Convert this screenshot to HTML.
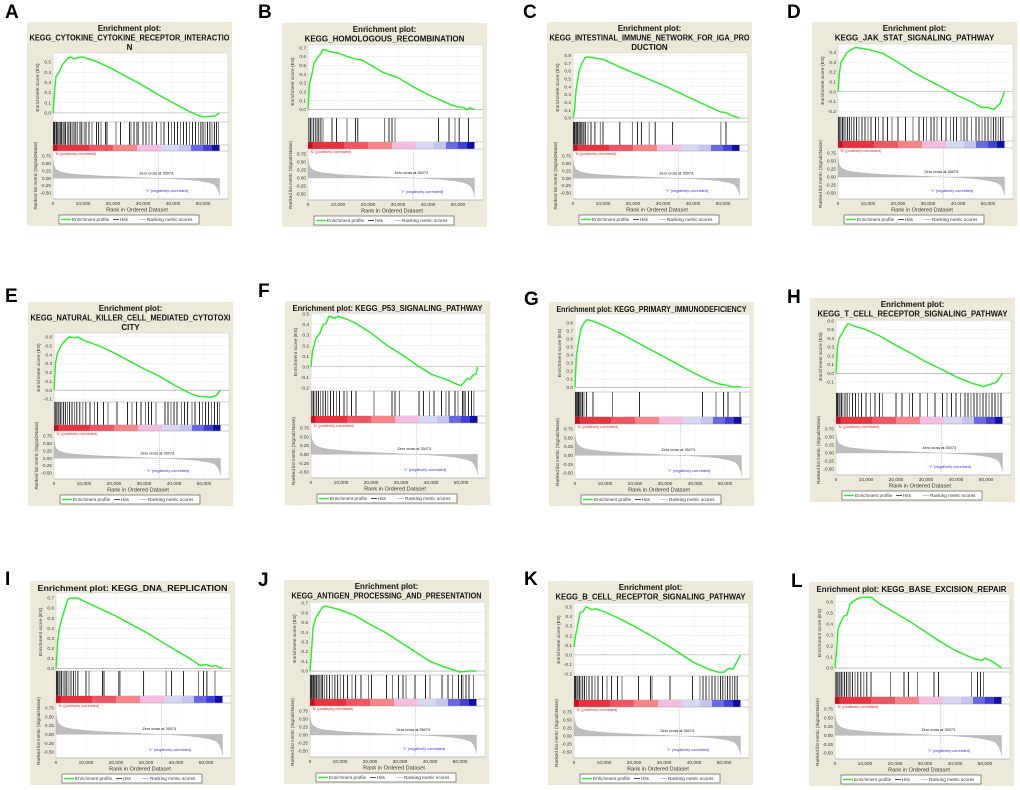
<!DOCTYPE html>
<html><head><meta charset="utf-8"><style>
body{margin:0;background:#fff;}
svg{display:block;font-family:"Liberation Sans",Arial,sans-serif;}
</style></head><body>
<svg id="fig" width="1020" height="790" viewBox="0 0 1020 790" xmlns="http://www.w3.org/2000/svg"></svg>
<script>
// ---- data (ranks in thousands) ----
const panelLetters=["A","B","C","D","E","F","G","H","I","J","K","L"];
const panelTitles=[
["Enrichment plot:","KEGG_CYTOKINE_CYTOKINE_RECEPTOR_INTERACTIO","N"],
["Enrichment plot:","KEGG_HOMOLOGOUS_RECOMBINATION"],
["Enrichment plot:","KEGG_INTESTINAL_IMMUNE_NETWORK_FOR_IGA_PRO","DUCTION"],
["Enrichment plot:","KEGG_JAK_STAT_SIGNALING_PATHWAY"],
["Enrichment plot:","KEGG_NATURAL_KILLER_CELL_MEDIATED_CYTOTOXI","CITY"],
["Enrichment plot: KEGG_P53_SIGNALING_PATHWAY"],
["Enrichment plot: KEGG_PRIMARY_IMMUNODEFICIENCY"],
["Enrichment plot:","KEGG_T_CELL_RECEPTOR_SIGNALING_PATHWAY"],
["Enrichment plot: KEGG_DNA_REPLICATION"],
["Enrichment plot:","KEGG_ANTIGEN_PROCESSING_AND_PRESENTATION"],
["Enrichment plot:","KEGG_B_CELL_RECEPTOR_SIGNALING_PATHWAY"],
["Enrichment plot: KEGG_BASE_EXCISION_REPAIR"]];
const esTickLo=[0,0,0,-0.2,-0.1,-0.2,0,-0.1,0,0,-0.2,0];
const esTickHi=[0.5,0.7,0.8,0.4,0.6,0.5,0.8,0.6,0.7,0.7,0.5,0.6];
const esDomLo=[-0.09,-0.095,-0.05,-0.257,-0.133,-0.23,-0.06,-0.225,-0.025,-0.04,-0.22,-0.036];
const esDomHi=[0.59,0.73,0.83,0.486,0.644,0.51,0.91,0.61,0.75,0.71,0.54,0.67];
const esRanks=[
[0,0.5,1,2,3,5,6,7,9,10,15,20,25,30,35,40,45,48,50,54,55.5],
[0,0.5,1,2,3,4,5,8,10,13,16,18,25,30,35,40,44,48,50,52,53,54,55.5],
[0,0.5,1,2,3,4,5,10,15,20,25,30,35,40,45,49,51,53,55.5],
[0,0.5,1,2,3,5,6,10,15,20,25,30,35,40,45,48,50,52,54,55.5],
[0,0.5,1,2,3,5,7,8,10,15,20,25,30,35,40,45,48,50,52,54,55.5],
[0,0.5,1,1.5,3,4,5,6,8,9,12,15,20,25,30,35,40,45,49,50,51,52,53,54,55,55.5],
[0,0.5,1,2,3,4,6,10,15,20,25,30,35,40,45,48,50,53,54,55.5],
[0,0.5,1,2,3,4,6,10,15,20,25,30,35,40,45,49,51,53,54,55.5],
[0,0.5,1,2,3,4,5,7,10,15,20,25,30,35,40,45,48,50,52,53,55.5],
[0,0.5,1,2,3,4,5,10,15,20,25,30,35,40,45,48,50,53,55.5],
[0,0.5,1,2,3,4,6,7,10,15,20,25,30,35,40,45,48,50,51,52,53,54,55.5],
[0,0.5,1,2,3,4,5,7,9,12,15,20,25,30,35,40,45,47,49,50,53,55.5]];
const esValues=[
[0,0.2,0.36,0.4,0.47,0.54,0.55,0.53,0.55,0.55,0.5,0.43,0.35,0.27,0.18,0.1,0.02,-0.02,-0.04,-0.03,0],
[0,0.3,0.35,0.52,0.58,0.62,0.68,0.65,0.64,0.6,0.57,0.56,0.42,0.36,0.26,0.17,0.11,0.05,0.03,0.02,0,0.02,0],
[0,0.1,0.35,0.6,0.7,0.77,0.78,0.75,0.66,0.58,0.5,0.42,0.33,0.24,0.15,0.08,0.07,0.03,0],
[0,0.2,0.3,0.35,0.4,0.44,0.45,0.43,0.39,0.3,0.2,0.12,0.04,-0.04,-0.11,-0.16,-0.16,-0.18,-0.12,0],
[0,0.3,0.4,0.48,0.53,0.6,0.59,0.6,0.56,0.5,0.42,0.33,0.24,0.16,0.06,-0.03,-0.07,-0.07,-0.08,-0.06,0],
[0,0.15,0.2,0.26,0.32,0.4,0.41,0.48,0.46,0.48,0.45,0.41,0.32,0.21,0.12,0.02,-0.07,-0.12,-0.17,-0.18,-0.15,-0.11,-0.12,-0.08,-0.07,0],
[0,0.4,0.52,0.73,0.8,0.84,0.82,0.76,0.67,0.57,0.47,0.37,0.27,0.17,0.08,0.04,0.03,0,0.01,0],
[0,0.3,0.4,0.45,0.52,0.57,0.54,0.5,0.42,0.32,0.23,0.13,0.05,-0.04,-0.11,-0.15,-0.13,-0.11,-0.08,0],
[0,0.25,0.38,0.5,0.6,0.69,0.7,0.7,0.66,0.59,0.52,0.44,0.36,0.27,0.18,0.09,0.03,0.04,0.02,0.03,0],
[0,0.2,0.45,0.55,0.6,0.65,0.67,0.63,0.57,0.48,0.4,0.3,0.2,0.1,0.04,0.01,-0.01,0,0],
[0.08,0.2,0.27,0.44,0.45,0.5,0.47,0.48,0.45,0.38,0.3,0.21,0.12,0.02,-0.08,-0.15,-0.18,-0.18,-0.15,-0.14,-0.15,-0.09,0],
[0,0.15,0.35,0.42,0.47,0.48,0.58,0.62,0.64,0.64,0.58,0.5,0.42,0.33,0.24,0.16,0.1,0.08,0.07,0.09,0.05,0]];
const hitRanks=[
[0.2,0.5,0.9,1.2,1.6,2,2.4,2.8,3.3,3.7,4.2,4.8,5.3,5.9,6.4,7,7.6,8.2,9,9.6,10.4,11,12,13,14.5,15.2,16,17.5,18,21,22.5,25.5,26,27,28,28.5,30,31,32,33,34.5,36,37,38.5,39.5,40.5,41.5,42.5,43.5,44.5,45.5,46.5,47.5,48.5,49.3,50,50.7,51.5,52.3,53,53.8,54.5,55.2],
[0.3,0.8,1.3,1.9,2.6,3.1,3.6,4.3,5,8,9.5,13,15.8,16.6,25.5,27,28,29,43.5,47,49,50.4,53.5],
[0.2,0.5,0.8,1.1,1.5,1.9,2.3,2.7,3.1,3.6,4.1,5,6,7.3,9.1,10,15.6,19.8,21.5,22.8,25.4,27.4,33.2,49.3,51],
[0.2,0.6,1,1.5,2,2.6,3.2,3.8,4.5,5.3,6.2,7,8,9,10,11,12.5,13.5,15,16.5,18,20,22.5,25,27,28.5,29.5,31,32,33,34.5,36,37.5,38.5,39.5,41,42,43,44.5,46,47,48,49,50,51,51.8,52.6,53.4,54.2,55],
[0.3,0.7,1.1,1.6,2.1,2.6,3.2,3.8,4.5,5.2,6,6.8,7.6,8.6,9.6,10.6,12,13.5,14.5,16.5,18,21,24.5,26,27.5,29,30.5,31.5,32.5,34,37,38,39,40,41,42.5,43.5,44.5,46,47,48.5,49.5,50.5,51.5,52.5,53.5,54.5,55.2],
[0.3,0.8,1.3,1.9,2.5,3.2,4,4.8,5.6,6.5,7.5,8.5,9.5,11,12,13.5,15,21,27,28,29.5,36,37.5,39.5,41,43.5,45,46,48,49,50.5,51,51.5,52.5,53.5,54.3],
[0.2,0.4,0.7,1,1.3,1.6,2,2.5,3,3.8,6,12.5,21.5,42.5,47,49.5,51,55],
[0.2,0.5,0.9,1.3,1.8,2.3,3,3.7,4.5,5.5,6.5,7.5,8.5,10,11.5,13,14.5,15.5,20,22,24.5,25.5,28,30.5,33,35.5,37,38.5,40,41.5,43,44,45,46,47,48,49,50,51,52,53,54,55],
[0.2,0.5,0.9,1.3,1.8,2.4,3,3.6,4.3,5,5.8,6.5,7.3,10,11,15.5,16,20.8,21.3,29.2,36.7,38.5,42.5,47.5,49.2,50.3,53],
[0.2,0.5,0.8,1.1,1.4,1.8,2.2,2.7,3.2,3.7,4.2,4.8,5.6,6.5,7.4,8.3,9.2,10.1,11.2,12.5,14,15.2,17,19.5,20.5,25.5,27.5,29.5,31,32,35,38.5,40,44,46,47.5,49.5,50.5,51,52,53,54.5],
[0.2,0.5,0.9,1.3,1.8,2.3,2.9,3.5,4.2,5,6,7,8,9.5,11,12.5,14.5,16,21.5,25.5,26,32,39.5,42,43,44,45,46,47,48,48.8,49.6,50.4,51.2,52,52.8,53.6,54.4],
[0.3,0.7,1.1,1.6,2.1,2.6,3.2,3.8,4.4,5,5.8,6.7,7.6,8.6,9.6,10.6,12,18.5,23,24.5,27.5,33,34.5,45.5,47.5,48.5,49.5]];
const metricRanks=[0,0.2,0.5,1,2,3,5,8,10,15,20,25,30,35.07,40,45,48,50,52,53.5,54.5,55.2,55.5];
const metricValues=[0.6,0.48,0.38,0.3,0.24,0.2,0.16,0.13,0.11,0.08,0.06,0.04,0.02,0,-0.02,-0.05,-0.08,-0.11,-0.15,-0.2,-0.3,-0.45,-0.58];
const xTickValues=[0,10,20,30,40,50];
const xTickLabels=["0","10,000","20,000","30,000","40,000","50,000"];
const rankTickValues=[0.75,0.5,0.25,0,-0.25,-0.5];
const rankTickLabels=["0.75","0.50","0.25","0.00","-0.25","-0.50"];
const zeroCross=35.073;
// ---- layout ----
const boxes=[[27,22],[282,23],[547,22],[812,22],[28,302],[285,301],[549,302],[810,298],[30,581],[284,580],[548,581],[809,582]];
const labelPos=[[5,18],[258,18],[523,18],[787,18],[5,302],[258,297],[524,305],[787,303],[5,585],[258,586],[524,585],[791,587]];
const NS="http://www.w3.org/2000/svg";
const svg=document.getElementById("fig");
function mk(tag,attrs,parent,text){const e=document.createElementNS(NS,tag);for(const k in attrs)e.setAttribute(k,attrs[k]);if(text!==undefined)e.textContent=text;parent.appendChild(e);return e;}
const cbStops=[[0,1.5,"#c81020"],[1.5,12,"#e8333d"],[12,20,"#f05562"],[20,28,"#f88488"],[28,36,"#f8bce0"],[36,42,"#d8d8f6"],[42,46,"#c4c4f0"],[46,50,"#6868e4"],[50,53,"#4040d4"],[53,55.5,"#1010a8"]];
for(let p=0;p<12;p++){
  const bx=boxes[p][0],by=boxes[p][1];
  const g=mk("g",{transform:`translate(${bx},${by})`},svg);
  
  
  const lab=mk("text",{x:labelPos[p][0],y:labelPos[p][1],"font-size":19,"font-weight":"bold",fill:"#000"},svg,panelLetters[p]);
  
  
  const bg=mk("rect",{x:0,y:0,width:205,height:204,fill:"#ece9d9"},g);
  
  
  const nl=panelTitles[p].length;
  const esTop=nl===3?31:(nl===2?22:12), esBot=nl===3?100:(nl===2?95:90);
  const hitsBot=nl===3?123:(nl===2?119:115), cbBot=nl===3?129:(nl===2?126:122);
  const rTop=cbBot+1, rBot=177;
  const X=r=>26+r*3;
  const Y=v=>esBot-(v-esDomLo[p])/(esDomHi[p]-esDomLo[p])*(esBot-esTop);
  const RY=v=>171-(v+0.5)/1.25*(171-(rTop+4));
  panelTitles[p].forEach((t,i)=>{
    const ty=nl===1?10:9+i*9.5;
    const tt=mk("text",{x:102.5,y:ty,"font-size":8,"font-weight":"bold","text-anchor":"middle",fill:"#111"},g,t);
    if(nl===1&&t.length>36){tt.setAttribute("textLength",190);tt.setAttribute("lengthAdjust","spacingAndGlyphs");}
    else if(t.length>41){tt.setAttribute("textLength",200);tt.setAttribute("lengthAdjust","spacingAndGlyphs");}
    else if(t.length>=38){tt.setAttribute("textLength",190);tt.setAttribute("lengthAdjust","spacingAndGlyphs");}
    
    
  });
  const pa=mk("rect",{x:26,y:esTop,width:175,height:rBot-esTop,fill:"#fff",stroke:"#ccc","stroke-width":0.5},g);
  
  
  xTickValues.forEach(v=>{mk("line",{x1:X(v),x2:X(v),y1:esTop,y2:esBot,stroke:"#ddd","stroke-width":0.4,"stroke-dasharray":"1,1"},g);
    mk("line",{x1:X(v),x2:X(v),y1:rTop,y2:rBot,stroke:"#ddd","stroke-width":0.4,"stroke-dasharray":"1,1"},g);});
  for(let v=esTickLo[p];v<=esTickHi[p]+1e-6;v+=0.1){
    const yy=Y(v);
    mk("line",{x1:26,x2:201,y1:yy,y2:yy,stroke:Math.abs(v)<1e-6?"#999":"#e2e2e2","stroke-width":Math.abs(v)<1e-6?0.6:0.4},g);
    const tl=mk("text",{x:24,y:yy+1.6,"font-size":4.8,"text-anchor":"end",fill:"#333"},g,(Math.abs(v)<1e-6?0:v).toFixed(1));
    
    
  }
  mk("line",{x1:26,x2:201,y1:esBot,y2:esBot,stroke:"#999","stroke-width":0.5},g);
  const yt1=mk("text",{transform:`translate(12,${(esTop+esBot)/2}) rotate(-90)`,"font-size":4.8,"text-anchor":"middle",fill:"#333"},g,"Enrichment score (ES)");
  
  
  const pts=esRanks[p].map((r,i)=>X(r).toFixed(1)+","+Y(esValues[p][i]).toFixed(1)).join(" ");
  const cv=mk("polyline",{points:pts,fill:"none",stroke:"#22ee22","stroke-width":1.4,"stroke-linejoin":"round"},g);
  
  
  hitRanks[p].forEach((r,i)=>{
    const hl=mk("line",{x1:X(r),x2:X(r),y1:esBot,y2:hitsBot,stroke:i%3===2?"#666":"#111","stroke-width":0.9},g);
    
    
  });
  mk("line",{x1:26,x2:201,y1:hitsBot,y2:hitsBot,stroke:"#999","stroke-width":0.5},g);
  cbStops.forEach(s=>{const cb=mk("rect",{x:X(s[0]),y:hitsBot,width:(s[1]-s[0])*3,height:cbBot-hitsBot,fill:s[2]},g);
    
    });
  mk("line",{x1:26,x2:201,y1:cbBot,y2:cbBot,stroke:"#999","stroke-width":0.5},g);
  const pc=mk("text",{x:28,y:cbBot+4,"font-size":3.8,fill:"#e02020"},g,"'N' (positively correlated)");
  
  
  const mp=[X(0)+","+RY(0)].concat(metricRanks.map((r,i)=>X(r).toFixed(1)+","+RY(metricValues[i]).toFixed(1))).concat([X(55.5)+","+RY(0)]).join(" ");
  const ma=mk("polygon",{points:mp,fill:"#bdbdbd",stroke:"#aaa","stroke-width":0.3},g);
  
  
  mk("line",{x1:X(zeroCross),x2:X(zeroCross),y1:rTop,y2:rBot,stroke:"#888","stroke-width":0.4,"stroke-dasharray":"1,1"},g);
  const zc=mk("text",{x:X(zeroCross)-2,y:RY(0.13),"font-size":3.8,"text-anchor":"middle",fill:"#111"},g,"Zero cross at 35073");
  
  
  const nc=mk("text",{x:X(38),y:RY(-0.47),"font-size":3.8,"text-anchor":"middle",fill:"#3030e0"},g,"'Y' (negatively correlated)");
  
  
  rankTickValues.forEach((v,i)=>{const rl=mk("text",{x:24,y:RY(v)+1.6,"font-size":4.6,"text-anchor":"end",fill:"#333"},g,rankTickLabels[i]);
    
    });
  const yt2=mk("text",{transform:`translate(10,${(rTop+rBot)/2}) rotate(-90)`,"font-size":4.6,"text-anchor":"middle",fill:"#333"},g,"Ranked list metric (Signal2Noise)");
  
  
  mk("line",{x1:26,x2:201,y1:rBot,y2:rBot,stroke:"#999","stroke-width":0.5},g);
  xTickValues.forEach((v,i)=>{const xl=mk("text",{x:X(v),y:rBot+6,"font-size":4.8,"text-anchor":"middle",fill:"#333"},g,xTickLabels[i]);
    
    });
  const xt=mk("text",{x:110,y:rBot+12.5,"font-size":5.6,"text-anchor":"middle",fill:"#333"},g,"Rank in Ordered Dataset");
  
  
  const lg=mk("g",{},g);
  
  
  mk("rect",{x:32,y:193,width:140,height:9,fill:"#fff",stroke:"#444","stroke-width":0.6},lg);
  mk("line",{x1:34,x2:44,y1:197.5,y2:197.5,stroke:"#22ee22","stroke-width":1.4},lg);
  mk("text",{x:45,y:199.2,"font-size":4.6,fill:"#333"},lg,"Enrichment profile");
  mk("line",{x1:86,x2:92,y1:197.5,y2:197.5,stroke:"#222","stroke-width":0.8},lg);
  mk("text",{x:93,y:199.2,"font-size":4.6,fill:"#333"},lg,"Hits");
  mk("line",{x1:112,x2:119,y1:197.5,y2:197.5,stroke:"#bbb","stroke-width":0.8},lg);
  mk("text",{x:120,y:199.2,"font-size":4.6,fill:"#333"},lg,"Ranking metric scores");
}
</script>
</body></html>
